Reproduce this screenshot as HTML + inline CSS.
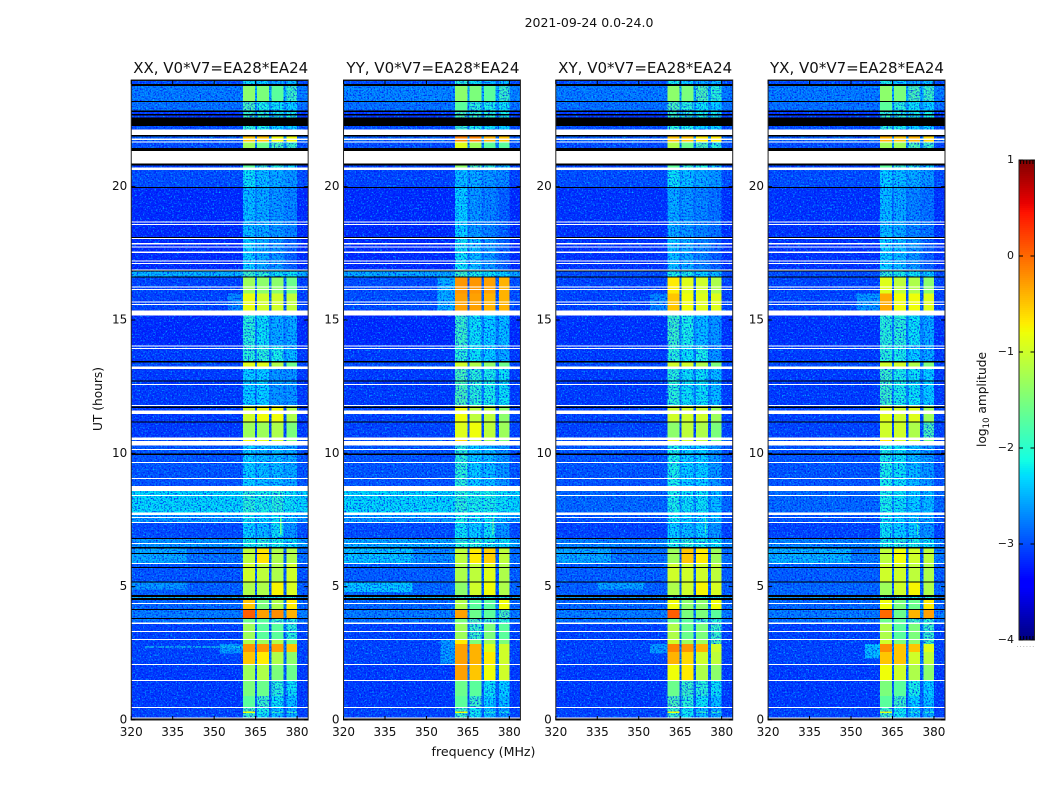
<!DOCTYPE html>
<html lang="en">
<head>
<meta charset="utf-8">
<title>2021-09-24 0.0-24.0</title>
<style>
html,body{margin:0;padding:0;background:#fff;width:1050px;height:800px;overflow:hidden}
svg{display:block}
text{font-family:"DejaVu Sans","Liberation Sans",sans-serif;fill:#111}
</style>
</head>
<body>
<svg id="chart" xmlns="http://www.w3.org/2000/svg" width="1050" height="800" viewBox="0 0 1050 800">
  <defs>
    <filter id="speckle-light" x="0" y="0" width="100%" height="100%" filterUnits="objectBoundingBox" color-interpolation-filters="sRGB">
      <feTurbulence type="fractalNoise" baseFrequency="0.62" numOctaves="2" seed="7"/>
      <feColorMatrix type="matrix" values="0 0 0 0 0  0 0 0 0 0.8  0 0 0 0 1  2.6 0 0 0 -1.3"/>
    </filter>
    <filter id="speckle-dark" x="0" y="0" width="100%" height="100%" filterUnits="objectBoundingBox" color-interpolation-filters="sRGB">
      <feTurbulence type="fractalNoise" baseFrequency="0.62" numOctaves="2" seed="23"/>
      <feColorMatrix type="matrix" values="0 0 0 0 0  0 0 0 0 0.05  0 0 0 0 0.95  2.8 0 0 0 -1.3"/>
    </filter>
  </defs>
  <rect x="0" y="0" width="1050" height="800" fill="#fff"/>
  <text x="589" y="27" font-size="12.5" text-anchor="middle">2021-09-24 0.0-24.0</text>
  <text x="220.7" y="73" font-size="15" text-anchor="middle" textLength="175" lengthAdjust="spacingAndGlyphs">XX, V0*V7=EA28*EA24</text>
  <text x="432.9" y="73" font-size="15" text-anchor="middle" textLength="173" lengthAdjust="spacingAndGlyphs">YY, V0*V7=EA28*EA24</text>
  <text x="645.2" y="73" font-size="15" text-anchor="middle" textLength="174" lengthAdjust="spacingAndGlyphs">XY, V0*V7=EA28*EA24</text>
  <text x="857" y="73" font-size="15" text-anchor="middle" textLength="174" lengthAdjust="spacingAndGlyphs">YX, V0*V7=EA28*EA24</text>
  <g id="panels"></g>
  <text x="483.5" y="756" font-size="12.6" text-anchor="middle">frequency (MHz)</text>
  <text transform="translate(102 399) rotate(-90)" font-size="12.2" text-anchor="middle">UT (hours)</text>
  <g id="colorbar"></g>
  <text transform="translate(986 399.5) rotate(-90)" font-size="12.2" text-anchor="middle">log<tspan font-size="8.5" dy="3">10</tspan><tspan dy="-3"> amplitude</tspan></text>
  <text x="1026" y="647" font-size="6" text-anchor="middle" letter-spacing="1.2" style="fill:#777">......</text>
</svg>
<script>
// ---------- data ----------
const panelNames = ["xx", "yy", "xy", "yx"];
const xTicks = [320, 335, 350, 365, 380];
const yTicks = [0, 5, 10, 15, 20];
const colorTicks = [-4, -3, -2, -1, 0, 1];
const colorMinorTicks = [0, 1, 2, 3, 4];

// frequency column edges (MHz): background, band1, gap, band2, gap, band3, gap, band4, background
const freqEdges = [320, 360.4, 364.8, 365.5, 369.9, 370.8, 375.0, 376.2, 380, 384];
// which value of a row each column uses: 0 bg, 1-4 bands, 5 gap
const columnValueIndex = [0, 1, 5, 2, 5, 3, 5, 4, 0];

// time row edges (UT hours), top to bottom
const rowEdges = [24, 23.85, 23.22, 22.86, 22.31, 21.93, 21.66, 21.33, 20.63, 19.95, 18.08, 16.86, 16.62, 16.0, 15.26, 14.05, 13.44, 13.2, 11.79, 11.2, 10.55, 10.46, 8.68, 7.74, 7.41, 6.81, 6.46, 5.85, 5.19, 4.65, 4.5, 4.15, 3.81, 3.63, 3.0, 2.85, 2.55, 2.08, 1.48, 0.9, 0.47, 0.32, 0.26, 0];

// log10 amplitude per row: [bg, band1, band2, band3, band4, gap]
const valuesXX = [
[-3.0,-2.2,-2.3,-2.5,-2.4,-2.8],[-2.75,-1.4,-1.5,-1.7,-1.9,-2.5],[-2.8,-1.8,-2.1,-2.2,-2.3,-2.6],[-3.1,-1.9,-2.0,-2.1,-2.1,-2.7],
[-3.0,-2.0,-2.1,-2.3,-2.3,-2.7],[-2.9,-0.5,-0.5,-0.8,-0.8,-2.6],[-3.0,-1.3,-1.6,-1.8,-1.9,-2.7],[-3.05,-1.7,-2.0,-2.1,-2.3,-2.7],
[-3.0,-2.2,-2.4,-2.5,-2.6,-2.6],[-3.2,-2.4,-2.5,-2.6,-2.7,-2.7],[-3.2,-2.3,-2.5,-2.6,-2.9,-2.8],[-2.45,-1.9,-2.0,-2.2,-2.2,-2.4],
[-3.05,-1.3,-1.4,-1.4,-1.6,-2.8],[-3.05,-0.85,-1.0,-1.0,-1.1,-2.9],[-3.2,-2.0,-2.2,-2.5,-2.5,-2.7],[-3.1,-2.0,-2.0,-2.1,-2.4,-2.7],
[-3.0,-0.9,-0.9,-1.2,-1.6,-2.8],[-3.1,-2.3,-2.3,-2.6,-2.6,-2.7],[-3.1,-1.0,-0.8,-0.8,-1.2,-3.0],[-3.1,-1.3,-1.3,-1.2,-1.5,-3.0],
[-3.0,-0.8,-0.9,-1.0,-1.5,-2.8],[-2.95,-2.3,-2.4,-2.4,-2.5,-2.6],[-2.25,-2.0,-2.1,-2.0,-2.2,-2.2],[-2.6,-2.2,-2.3,-2.2,-2.4,-2.5],
[-3.0,-2.3,-2.4,-2.2,-2.6,-2.7],[-2.6,-2.1,-2.0,-2.1,-2.2,-2.4],[-2.8,-1.1,-0.65,-1.2,-1.2,-2.9],[-2.95,-1.0,-1.1,-1.2,-1.0,-2.9],
[-2.9,-1.2,-1.2,-0.75,-0.95,-2.9],[-2.5,-2.0,-2.0,-2.1,-2.1,-2.4],[-2.85,-0.5,-1.5,-1.2,-0.7,-2.7],[-2.75,0.05,-0.3,-0.2,-0.4,-2.7],
[-2.8,-1.6,-1.7,-1.9,-2.0,-2.7],[-3.05,-1.3,-1.7,-1.7,-2.0,-2.8],[-3.05,-1.2,-1.3,-1.2,-1.6,-2.8],[-3.05,-0.25,-0.25,-0.3,-0.5,-2.8],
[-3.05,-0.5,-0.7,-1.2,-1.4,-2.8],[-3.1,-1.3,-1.2,-1.5,-1.6,-2.9],[-3.1,-1.5,-1.6,-2.0,-2.2,-2.9],[-3.1,-1.7,-1.9,-2.2,-2.4,-2.9],
[-3.05,-1.8,-2.1,-2.4,-2.5,-2.9],[-3.05,-0.8,-2.1,-1.9,-1.9,-2.9],[-3.05,-1.9,-2.2,-2.4,-2.5,-2.9]];

const valuesYY = [
[-3.0,-2.0,-2.2,-2.4,-2.4,-2.8],[-2.7,-1.4,-1.5,-1.7,-1.9,-2.5],[-2.8,-1.7,-2.0,-2.1,-2.2,-2.6],[-3.1,-1.8,-1.9,-2.0,-2.1,-2.7],
[-3.0,-1.9,-2.1,-2.2,-2.3,-2.7],[-2.9,-0.15,-0.15,-0.4,-0.5,-2.6],[-3.0,-0.9,-1.3,-1.7,-1.7,-2.7],[-3.05,-1.4,-1.8,-2.0,-2.3,-2.7],
[-3.05,-2.4,-2.5,-2.6,-2.7,-2.7],[-3.2,-2.3,-2.6,-2.7,-2.9,-2.8],[-3.2,-2.2,-2.4,-2.6,-2.9,-2.8],[-2.5,-1.9,-2.1,-2.2,-2.3,-2.4],
[-3.0,-0.25,-0.25,-0.3,-0.4,-2.9],[-3.0,-0.3,-0.3,-0.4,-0.4,-2.9],[-3.2,-1.9,-2.2,-2.3,-2.4,-2.7],[-3.1,-2.0,-2.2,-2.3,-2.5,-2.7],
[-3.0,-1.0,-1.2,-1.4,-1.6,-2.8],[-3.1,-1.8,-2.0,-2.1,-2.2,-2.7],[-3.05,-0.8,-1.1,-1.1,-1.4,-3.0],[-3.05,-0.9,-0.8,-1.1,-1.3,-3.0],
[-3.0,-0.6,-1.1,-1.3,-1.5,-2.8],[-2.95,-2.0,-2.3,-2.4,-2.6,-2.6],[-2.25,-2.0,-2.1,-2.1,-2.2,-2.2],[-2.6,-2.1,-2.2,-2.2,-2.4,-2.5],
[-3.0,-2.2,-2.3,-2.2,-2.6,-2.7],[-2.5,-2.0,-2.0,-2.1,-2.2,-2.4],[-2.8,-1.1,-0.7,-0.55,-1.1,-2.9],[-2.9,-1.2,-1.1,-0.9,-1.2,-2.9],
[-2.85,-1.4,-1.0,-0.8,-1.2,-2.9],[-2.4,-2.0,-2.0,-2.1,-2.1,-2.4],[-2.85,-1.2,-1.7,-1.7,-0.8,-2.7],[-2.75,-0.3,-1.6,-1.7,-1.8,-2.7],
[-2.8,-1.5,-1.8,-1.9,-2.0,-2.7],[-3.05,-1.3,-1.9,-1.5,-1.7,-2.8],[-3.05,-0.7,-1.5,-1.3,-1.5,-2.8],[-3.05,-0.3,-0.4,-0.9,-1.0,-2.8],
[-3.05,-0.3,-0.4,-0.7,-1.0,-2.8],[-3.1,-0.3,-0.5,-0.8,-1.0,-2.8],[-3.1,-1.6,-1.7,-2.2,-2.3,-2.9],[-3.1,-1.7,-1.9,-2.3,-2.4,-2.9],
[-3.05,-1.9,-2.2,-2.4,-2.6,-2.9],[-3.05,-0.8,-2.1,-2.0,-2.1,-2.9],[-3.05,-1.9,-2.2,-2.4,-2.6,-2.9]];

const valuesXY = [
[-3.0,-2.1,-2.3,-2.5,-2.4,-2.8],[-2.75,-1.4,-1.5,-1.8,-2.0,-2.5],[-2.8,-1.8,-2.0,-2.2,-2.3,-2.6],[-3.1,-1.9,-2.0,-2.1,-2.1,-2.7],
[-3.0,-2.0,-2.1,-2.3,-2.3,-2.7],[-2.9,-0.5,-0.5,-0.7,-0.7,-2.6],[-3.0,-1.2,-1.6,-1.8,-2.0,-2.7],[-3.05,-1.7,-2.0,-2.1,-2.3,-2.7],
[-3.0,-2.2,-2.4,-2.5,-2.6,-2.6],[-3.15,-2.5,-2.6,-2.7,-2.8,-2.8],[-3.15,-2.4,-2.5,-2.7,-2.9,-2.8],[-3.0,-2.1,-2.1,-2.3,-2.4,-2.6],
[-3.05,-0.7,-0.9,-1.0,-1.2,-2.9],[-3.05,-0.5,-0.8,-0.9,-0.9,-2.9],[-3.15,-1.9,-2.1,-2.4,-2.6,-2.7],[-3.1,-2.0,-2.2,-2.1,-2.6,-2.7],
[-3.0,-1.0,-1.0,-1.2,-1.5,-2.8],[-3.1,-2.0,-2.2,-2.2,-2.4,-2.7],[-3.05,-1.0,-1.0,-1.0,-1.3,-3.0],[-3.05,-1.4,-1.1,-1.2,-1.5,-3.0],
[-3.0,-0.9,-1.0,-1.1,-1.6,-2.8],[-2.95,-2.1,-2.3,-2.3,-2.6,-2.6],[-2.85,-2.1,-2.2,-2.2,-2.4,-2.6],[-2.95,-2.2,-2.3,-2.3,-2.4,-2.6],
[-3.05,-2.3,-2.4,-2.3,-2.6,-2.7],[-2.7,-2.1,-2.0,-2.1,-2.2,-2.5],[-2.8,-1.3,-0.5,-0.7,-1.3,-2.9],[-2.9,-1.0,-1.0,-1.0,-1.1,-2.9],
[-2.9,-1.2,-1.0,-0.75,-0.95,-2.9],[-2.6,-2.0,-2.0,-2.1,-2.1,-2.4],[-2.85,-0.8,-1.4,-1.4,-0.8,-2.7],[-2.75,0.05,-1.5,-1.5,-1.7,-2.7],
[-2.8,-1.6,-1.7,-1.9,-2.0,-2.7],[-3.05,-1.2,-1.6,-1.5,-1.9,-2.8],[-3.05,-1.0,-1.3,-1.3,-1.8,-2.8],[-3.05,-0.15,-0.25,-0.4,-1.0,-2.8],
[-3.05,-0.4,-0.6,-1.0,-1.1,-2.8],[-3.1,-0.8,-0.7,-1.2,-1.4,-2.9],[-3.1,-1.6,-1.9,-2.0,-2.2,-2.9],[-3.1,-1.8,-2.0,-2.2,-2.4,-2.9],
[-3.05,-1.9,-2.2,-2.4,-2.5,-2.9],[-3.05,-0.8,-2.1,-1.9,-1.9,-2.9],[-3.05,-1.9,-2.2,-2.4,-2.5,-2.9]];

const valuesYX = [
[-3.0,-2.1,-2.3,-2.5,-2.4,-2.8],[-2.75,-1.4,-1.5,-1.8,-1.9,-2.5],[-2.8,-1.7,-2.0,-2.2,-2.3,-2.6],[-3.1,-1.9,-2.0,-2.1,-2.1,-2.7],
[-3.0,-2.0,-2.1,-2.3,-2.3,-2.7],[-2.9,-0.4,-0.5,-0.4,-0.6,-2.6],[-3.0,-1.3,-1.3,-1.8,-1.9,-2.7],[-3.05,-1.7,-1.9,-2.1,-2.3,-2.7],
[-3.0,-2.3,-2.4,-2.5,-2.6,-2.6],[-3.15,-2.4,-2.5,-2.7,-2.8,-2.8],[-3.15,-2.3,-2.4,-2.6,-2.9,-2.8],[-3.0,-2.0,-2.1,-2.2,-2.3,-2.6],
[-3.05,-0.9,-1.1,-1.2,-1.4,-2.9],[-3.05,-0.35,-0.8,-0.8,-0.9,-2.9],[-3.15,-2.0,-2.0,-2.2,-2.5,-2.7],[-3.1,-2.0,-2.1,-2.3,-2.5,-2.7],
[-3.0,-1.0,-1.0,-1.2,-1.5,-2.8],[-3.1,-1.9,-2.1,-2.2,-2.3,-2.7],[-3.05,-0.9,-1.0,-0.9,-1.3,-3.0],[-3.05,-1.0,-1.0,-1.2,-1.8,-3.0],
[-3.0,-0.7,-1.0,-1.1,-1.6,-2.8],[-2.95,-2.1,-2.2,-2.4,-2.6,-2.6],[-2.85,-2.1,-2.2,-2.3,-2.4,-2.6],[-2.95,-2.2,-2.3,-2.4,-2.5,-2.6],
[-3.05,-2.2,-2.3,-2.3,-2.6,-2.7],[-2.7,-2.1,-2.0,-2.1,-2.2,-2.5],[-2.75,-1.1,-0.8,-1.0,-1.1,-2.9],[-2.9,-1.0,-1.0,-1.1,-1.2,-2.9],
[-2.85,-1.3,-1.0,-0.75,-1.2,-2.9],[-2.6,-2.0,-2.0,-2.1,-2.1,-2.4],[-2.85,-0.8,-1.5,-1.6,-0.7,-2.7],[-2.75,0.0,-1.6,-0.4,-0.3,-2.7],
[-2.8,-1.6,-1.7,-1.9,-2.0,-2.7],[-3.05,-1.2,-1.7,-1.5,-1.9,-2.8],[-3.05,-1.0,-1.5,-1.4,-1.9,-2.8],[-3.05,-0.2,-0.5,-0.5,-0.9,-2.8],
[-3.05,-0.5,-0.5,-1.0,-1.1,-2.8],[-3.1,-0.8,-1.0,-1.2,-1.4,-2.9],[-3.1,-1.5,-1.7,-2.1,-2.3,-2.9],[-3.1,-1.7,-1.9,-2.3,-2.4,-2.9],
[-3.05,-1.9,-2.2,-2.4,-2.5,-2.9],[-3.05,-0.9,-2.1,-2.0,-2.0,-2.9],[-3.05,-1.9,-2.2,-2.4,-2.5,-2.9]];

const panelValues = [valuesXX, valuesYY, valuesXY, valuesYX];

// localized features: [panel, top hour, bottom hour, start MHz, end MHz, log10 amplitude]
const localFeatures = [
[0,6.46,5.85,320,340,-2.5],[2,6.46,5.85,320,340,-2.5],[1,6.46,5.85,320,345,-2.35],[1,6.46,5.85,345,360.4,-2.65],
[1,5.19,4.8,320,345,-2.35],[3,6.46,5.85,320,350,-2.45],[2,5.19,4.9,335,352,-2.55],[0,5.19,4.9,320,340,-2.6],
[1,16.62,15.36,354,360.4,-2.5],[0,16.0,15.36,355,360.4,-2.7],[3,16.0,15.36,352,360.4,-2.6],[2,16.0,15.36,354,360.4,-2.7],
[1,3.0,2.1,355,360.4,-2.6],[3,2.85,2.3,355,360.4,-2.4],[0,2.85,2.5,352,360.4,-2.6],[2,2.85,2.5,354,360.4,-2.6],
[0,2.76,2.72,325,360.4,-2.1],
[0,7.57,6.95,373.9,374.3,-1.6],[1,7.57,6.95,373.9,374.3,-1.6],[2,7.57,6.95,373.9,374.3,-1.8],[3,7.57,6.95,373.9,374.3,-1.8]];

// flagged (no data) time ranges [top hour, bottom hour], shared by all panels
const whiteFlags = [[22.14,21.93],[21.80,21.75],[21.70,21.66],[21.33,20.86],[20.71,20.63],[18.70,18.66],[18.60,18.56],[18.08,18.03],[17.88,17.84],[17.75,17.71],[17.56,17.52],[17.24,17.20],[17.13,17.10],[16.90,16.86],[16.26,16.23],[16.16,16.13],[15.70,15.66],[15.60,15.56],[15.36,15.16],[14.05,14.01],[13.95,13.92],[13.25,13.16],[12.60,12.57],[11.81,11.78],[11.60,11.48],[10.59,10.50],[10.46,10.29],[10.16,10.13],[9.68,9.64],[9.08,9.04],[8.78,8.58],[8.44,8.40],[7.79,7.69],[7.62,7.59],[7.43,7.39],[6.64,6.60],[5.89,5.85],[4.39,4.35],[3.66,3.60],[3.33,3.30],[3.04,3.00],[2.10,2.06],[1.50,1.46],[0.49,0.45],[0.09,0.06]];
// zero-amplitude time ranges [top hour, bottom hour]
const blackFlags = [[24,23.97],[23.85,23.78],[23.22,23.18],[22.86,22.80],[22.73,22.67],[22.60,22.32],[22.31,22.28],[21.93,21.88],[21.45,21.33],[20.86,20.80],[19.98,19.95],[18.11,18.08],[16.86,16.84],[16.64,16.60],[13.47,13.41],[12.74,12.71],[11.76,11.70],[11.20,11.18],[9.99,9.93],[6.83,6.79],[6.48,6.44],[6.26,6.24],[5.73,5.70],[5.20,5.18],[4.68,4.62],[4.58,4.50],[4.16,4.14],[3.83,3.79],[0.06,0]];

// ---------- scales ----------
const SVGNS = "http://www.w3.org/2000/svg";
const PANEL_LEFT = 131.25, PANEL_STEP = 212.28, PANEL_W = 176.9, PANEL_TOP = 80, PANEL_BOTTOM = 720;
const F_MIN = 320, F_MAX = 384, H_MIN = 0, H_MAX = 24;
const CB_LEFT = 1019, CB_RIGHT = 1034.5, CB_TOP = 160, CB_BOTTOM = 640, V_MIN = -4, V_MAX = 1;
const HOT_THRESHOLD = -1.7;

function xScale(panel, f) { return PANEL_LEFT + PANEL_STEP * panel + (f - F_MIN) / (F_MAX - F_MIN) * PANEL_W; }
function yScale(h) { return PANEL_BOTTOM - (h - H_MIN) / (H_MAX - H_MIN) * (PANEL_BOTTOM - PANEL_TOP); }
function cbScale(v) { return CB_BOTTOM - (v - V_MIN) / (V_MAX - V_MIN) * (CB_BOTTOM - CB_TOP); }

function ramp(t, pts) {
  for (let i = 1; i < pts.length; i++) {
    if (t <= pts[i][0]) {
      const a = pts[i - 1], b = pts[i];
      return a[1] + (b[1] - a[1]) * (t - a[0]) / (b[0] - a[0]);
    }
  }
  return pts[pts.length - 1][1];
}
function jet(v) {
  const t = Math.max(0, Math.min(1, (v - V_MIN) / (V_MAX - V_MIN)));
  const r = ramp(t, [[0,0],[0.35,0],[0.66,1],[0.89,1],[1,0.5]]);
  const g = ramp(t, [[0,0],[0.125,0],[0.375,1],[0.64,1],[0.91,0],[1,0]]);
  const b = ramp(t, [[0,0.5],[0.11,1],[0.34,1],[0.65,0],[1,0]]);
  return "rgb(" + Math.round(r * 255) + "," + Math.round(g * 255) + "," + Math.round(b * 255) + ")";
}

function svgEl(tag, attrs, parent) {
  const el = document.createElementNS(SVGNS, tag);
  for (const k in attrs) el.setAttribute(k, attrs[k]);
  parent.appendChild(el);
  return el;
}

// ---------- draw panels ----------
const panelsRoot = document.getElementById("panels");
panelNames.forEach(function (name, p) {
  const left = xScale(p, F_MIN), right = xScale(p, F_MAX);
  const g = svgEl("g", {}, panelsRoot);
  
  

  const cold = svgEl("g", { "shape-rendering": "crispEdges" }, g);
  
  
  const texture = svgEl("g", {}, g);
  
  
  const hot = svgEl("g", { "shape-rendering": "crispEdges" }, g);
  
  
  const flags = svgEl("g", { "shape-rendering": "crispEdges" }, g);
  
  

  panelValues[p].forEach(function (row, r) {
    const yTop = yScale(rowEdges[r]), yBot = yScale(rowEdges[r + 1]);
    columnValueIndex.forEach(function (vi, c) {
      const v = row[vi];
      const x0 = xScale(p, freqEdges[c]), x1 = xScale(p, freqEdges[c + 1]);
      const cell = svgEl("rect", { x: x0.toFixed(2), y: yTop.toFixed(2), width: (x1 - x0).toFixed(2), height: (yBot - yTop).toFixed(2), fill: jet(v) }, v >= HOT_THRESHOLD ? hot : cold);
      
      
    });
  });

  localFeatures.forEach(function (f) {
    if (f[0] !== p) return;
    const x0 = xScale(p, f[3]), x1 = xScale(p, f[4]);
    const patch = svgEl("rect", { x: x0.toFixed(2), y: yScale(f[1]).toFixed(2), width: (x1 - x0).toFixed(2), height: Math.max(1, yScale(f[2]) - yScale(f[1])).toFixed(2), fill: jet(f[5]) }, f[5] >= HOT_THRESHOLD ? hot : cold);
    
    
  });

  const light = svgEl("rect", { x: left, y: PANEL_TOP, width: PANEL_W, height: PANEL_BOTTOM - PANEL_TOP, fill: "#000", filter: "url(#speckle-light)" }, texture);
  
  
  const dark = svgEl("rect", { x: left, y: PANEL_TOP, width: PANEL_W, height: PANEL_BOTTOM - PANEL_TOP, fill: "#000", filter: "url(#speckle-dark)" }, texture);
  
  

  whiteFlags.forEach(function (f) {
    const band = svgEl("rect", { x: left, y: yScale(f[0]).toFixed(2), width: PANEL_W, height: Math.max(1, yScale(f[1]) - yScale(f[0])).toFixed(2), fill: "#fff" }, flags);
    
    
  });
  blackFlags.forEach(function (f) {
    const band = svgEl("rect", { x: left, y: yScale(f[0]).toFixed(2), width: PANEL_W, height: Math.max(1, yScale(f[1]) - yScale(f[0])).toFixed(2), fill: "#000" }, flags);
    
    
  });

  const frame = svgEl("rect", { x: left, y: PANEL_TOP, width: PANEL_W, height: PANEL_BOTTOM - PANEL_TOP, fill: "none", stroke: "#222", "stroke-width": 1 }, g);
  
  

  xTicks.forEach(function (t) {
    const x = xScale(p, t);
    const up = svgEl("line", { x1: x, x2: x, y1: PANEL_BOTTOM, y2: PANEL_BOTTOM - 4, stroke: "#000" }, g);
    
    
    const down = svgEl("line", { x1: x, x2: x, y1: PANEL_TOP, y2: PANEL_TOP + 4, stroke: "#000" }, g);
    
    
    const lab = svgEl("text", { x: x, y: PANEL_BOTTOM + 16, "font-size": 12, "text-anchor": "middle" }, g);
    
    
    lab.textContent = t;
  });
  yTicks.forEach(function (t) {
    const y = yScale(t);
    const a = svgEl("line", { x1: left, x2: left + 4, y1: y, y2: y, stroke: "#000" }, g);
    
    
    const b = svgEl("line", { x1: right, x2: right - 4, y1: y, y2: y, stroke: "#000" }, g);
    
    
    const lab = svgEl("text", { x: left - 4, y: y + 3.5, "font-size": 12, "text-anchor": "end" }, g);
    
    
    lab.textContent = t;
  });
});

// ---------- colorbar ----------
const cbRoot = document.getElementById("colorbar");
for (let i = 0; i < 240; i++) {
  const vTop = V_MAX - (V_MAX - V_MIN) * i / 240;
  const vBot = V_MAX - (V_MAX - V_MIN) * (i + 1) / 240;
  const seg = svgEl("rect", { x: CB_LEFT, y: cbScale(vTop), width: CB_RIGHT - CB_LEFT, height: cbScale(vBot) - cbScale(vTop) + 0.5, fill: jet((vTop + vBot) / 2), "shape-rendering": "crispEdges" }, cbRoot);
  
  
}
const cbFrame = svgEl("rect", { x: CB_LEFT, y: CB_TOP, width: CB_RIGHT - CB_LEFT, height: CB_BOTTOM - CB_TOP, fill: "none", stroke: "#222" }, cbRoot);


colorTicks.forEach(function (t) {
  const y = cbScale(t);
  const a = svgEl("line", { x1: CB_LEFT, x2: CB_LEFT + 4, y1: y, y2: y, stroke: "#000" }, cbRoot);
  
  
  const b = svgEl("line", { x1: CB_RIGHT, x2: CB_RIGHT - 4, y1: y, y2: y, stroke: "#000" }, cbRoot);
  
  
  const lab = svgEl("text", { x: CB_LEFT - 5, y: y + 3, "font-size": 11, "text-anchor": "end" }, cbRoot);
  
  
  lab.textContent = t < 0 ? "\u2212" + Math.abs(t) : String(t);
});
colorMinorTicks.forEach(function (i) {
  const x = CB_LEFT + (i + 0.5) * (CB_RIGHT - CB_LEFT) / colorMinorTicks.length;
  const top = svgEl("line", { x1: x, x2: x, y1: CB_TOP, y2: CB_TOP + 4, stroke: "#000" }, cbRoot);
  
  
  const bot = svgEl("line", { x1: x, x2: x, y1: CB_BOTTOM, y2: CB_BOTTOM - 4, stroke: "#000" }, cbRoot);
  
  
});
</script>
</body>
</html>
